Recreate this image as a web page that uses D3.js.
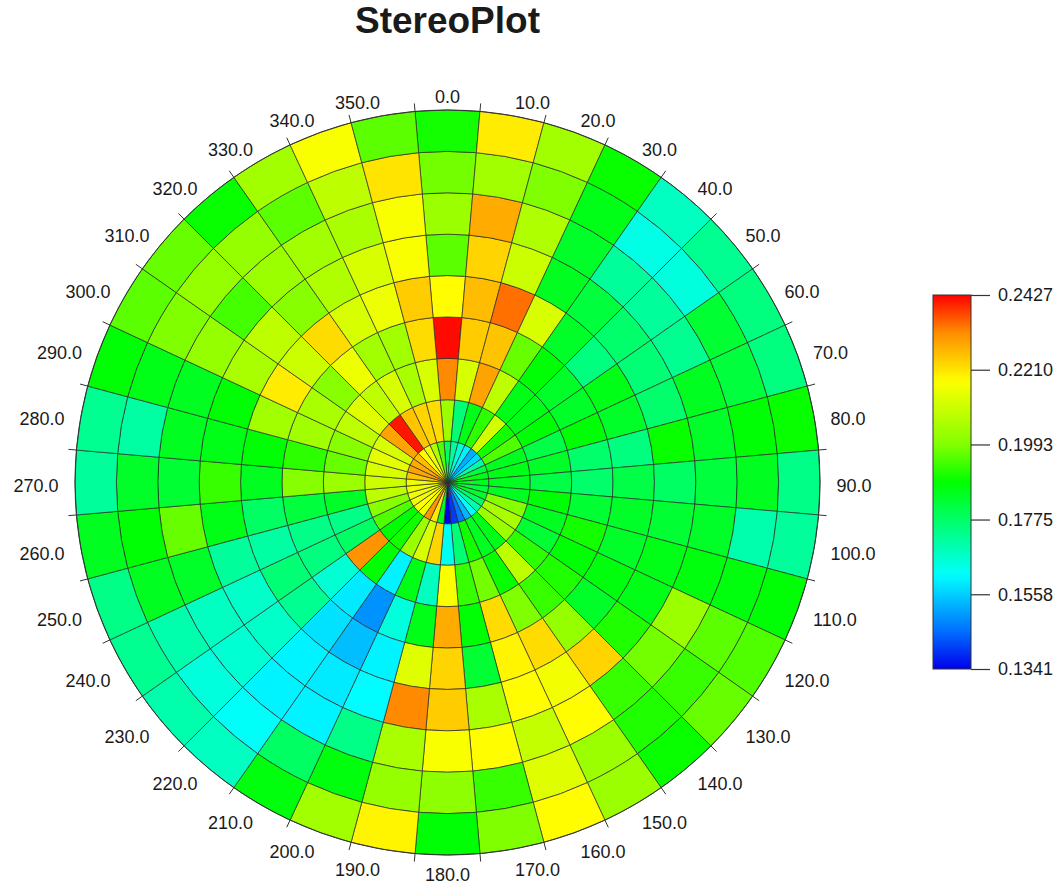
<!DOCTYPE html>
<html>
<head>
<meta charset="utf-8">
<script src="https://cdn.jsdelivr.net/npm/d3@7"></script>
<style>
  body { margin: 0; background: #fff; }
  text { font-family: "Liberation Sans", Arial, Helvetica, sans-serif; fill: #1a1a1a; }
</style>
</head>
<body>
<div id="chart"></div>
<script>
// sector centres (degrees, clockwise from north) and ring edges (degrees from centre)
var sectors = [0, 10, 20, 30, 40, 50, 60, 70, 80, 90, 100, 110, 120, 130, 140, 150, 160, 170,
               180, 190, 200, 210, 220, 230, 240, 250, 260, 270, 280, 290, 300, 310, 320, 330, 340, 350];
var ringEdges = [0, 10, 20, 30, 40, 50, 60, 70, 80, 90];

// values per ring, inner -> outer, one per sector
var ring0 = [.178, .172, .165, .160, .152, .157, .170, .182, .186, .185, .182, .184, .178, .170, .162, .153, .146, .140,
             .1341, .185, .220, .231, .215, .218, .216, .215, .216, .215, .225, .229, .228, .226, .218, .216, .206, .195];
var ring1 = [.203, .176, .186, .192, .211, .190, .195, .185, .186, .185, .185, .200, .205, .203, .186, .185, .190, .176,
             .163, .223, .212, .203, .190, .188, .195, .200, .208, .210, .212, .214, .212, .229, .241, .225, .223, .222];
var ring2 = [.232, .212, .229, .208, .186, .186, .188, .181, .184, .181, .188, .185, .183, .192, .208, .189, .198, .193,
             .217, .168, .186, .160, .188, .231, .178, .174, .184, .203, .197, .200, .208, .213, .208, .212, .205, .212];
var ring3 = [.242, .224, .225, .197, .188, .184, .184, .188, .177, .177, .183, .190, .188, .191, .193, .199, .222, .188,
             .228, .186, .165, .149, .159, .166, .175, .174, .182, .200, .192, .204, .205, .200, .215, .204, .204, .222];
var ring4 = [.218, .226, .234, .212, .184, .175, .186, .184, .175, .181, .184, .184, .187, .184, .202, .222, .219, .183,
             .223, .213, .160, .154, .158, .173, .176, .171, .178, .185, .188, .204, .220, .210, .222, .212, .215, .224];
var ring5 = [.196, .223, .210, .185, .182, .177, .176, .177, .189, .178, .183, .186, .186, .191, .223, .216, .218, .205,
             .224, .232, .161, .159, .160, .167, .167, .172, .186, .193, .186, .188, .205, .208, .200, .206, .212, .217];
var ring6 = [.203, .228, .206, .184, .172, .172, .173, .185, .184, .182, .184, .187, .203, .198, .193, .218, .209, .218,
             .217, .205, .174, .160, .160, .166, .168, .184, .197, .183, .185, .185, .202, .194, .203, .204, .205, .217];
var ring7 = [.198, .204, .199, .186, .164, .165, .183, .182, .188, .185, .170, .187, .196, .193, .191, .203, .213, .193,
             .201, .202, .187, .178, .162, .165, .170, .185, .188, .184, .171, .186, .199, .202, .202, .196, .208, .221];
var ring8 = [.190, .220, .204, .189, .168, .173, .175, .175, .189, .174, .172, .188, .195, .197, .189, .203, .218, .199,
             .188, .219, .204, .187, .168, .170, .173, .174, .185, .172, .173, .188, .196, .197, .189, .204, .217, .196];
var rings = [ring0, ring1, ring2, ring3, ring4, ring5, ring6, ring7, ring8];

var barTicks = [0.1341, 0.1558, 0.1775, 0.1993, 0.2210, 0.2427];

var w = 1064, h = 884;
var cx = 447.5, cy = 482.5, R = 372.5;

var svg = d3.select('#chart').append('svg')
  .attr('width', w)
  .attr('height', h);

var vmin = barTicks[0], vmax = barTicks[barTicks.length - 1];
var frac = d3.scaleLinear().domain([vmin, vmax]);
var color = d3.scaleLinear()
  .domain([0, 0.1, 0.25, 0.5, 0.6, 0.77, 0.9, 1].map(function(f) { return frac.invert(f); }))
  .range(['#0000eb', '#006eff', '#00ffff', '#00ff00', '#82ff00', '#ffff00', '#ff8c00', '#ff0000'])
  .clamp(true);

var r = d3.scaleLinear().domain([0, 90]).range([0, R]);
var ang = d3.scaleLinear().domain([0, 360]).range([0, 2 * Math.PI]);

svg.append('text')
  .attr('x', cx)
  .attr('y', 33)
  .attr('text-anchor', 'middle')
  .style('font-size', '37px')
  .style('font-weight', 'bold')
  .text('StereoPlot');

var plot = svg.append('g').attr('transform', 'translate(' + cx + ',' + cy + ')');

var cells = [];
rings.forEach(function(vals, i) {
  vals.forEach(function(v, j) {
    cells.push({ ring: i, az: sectors[j], value: v });
  });
});

var arc = d3.arc()
  .innerRadius(function(d) { return r(ringEdges[d.ring]); })
  .outerRadius(function(d) { return r(ringEdges[d.ring + 1]); })
  .startAngle(function(d) { return ang(d.az - 5); })
  .endAngle(function(d) { return ang(d.az + 5); });

plot.append('g')
  .selectAll('path')
  .data(cells)
  .enter().append('path')
  .attr('d', arc)
  .attr('fill', function(d) { return color(d.value); })
  .attr('stroke', '#2a2a2a')
  .attr('stroke-width', 0.7);

plot.append('circle')
  .attr('r', R)
  .attr('fill', 'none')
  .attr('stroke', '#333')
  .attr('stroke-width', 1);

// ticks on sector boundaries
plot.append('g')
  .selectAll('line')
  .data(sectors)
  .enter().append('line')
  .attr('x1', function(d) { return R * Math.sin(ang(d + 5)); })
  .attr('y1', function(d) { return -R * Math.cos(ang(d + 5)); })
  .attr('x2', function(d) { return (R + 8) * Math.sin(ang(d + 5)); })
  .attr('y2', function(d) { return -(R + 8) * Math.cos(ang(d + 5)); })
  .attr('stroke', '#333')
  .attr('stroke-width', 1);

var labR = R + 16.5;
plot.append('g')
  .selectAll('text')
  .data(sectors)
  .enter().append('text')
  .attr('x', function(d) { return labR * Math.sin(ang(d)); })
  .attr('y', function(d) { return -labR * Math.cos(ang(d)) + 3.5 + 0.36 * 18; })
  .attr('text-anchor', function(d) {
    if (d === 0 || d === 180) return 'middle';
    return d < 180 ? 'start' : 'end';
  })
  .style('font-size', '18px')
  .text(function(d) { return d.toFixed(1); });

// colour bar
var barX = 933, barW = 38;
var y = d3.scaleLinear().domain([vmin, vmax]).range([669, 295]);

var grad = svg.append('defs').append('linearGradient')
  .attr('id', 'cbar')
  .attr('x1', 0).attr('y1', 1).attr('x2', 0).attr('y2', 0);
grad.selectAll('stop')
  .data(d3.range(0, 1.0001, 0.02))
  .enter().append('stop')
  .attr('offset', function(d) { return d; })
  .attr('stop-color', function(d) { return color(frac.invert(d)); });

svg.append('rect')
  .attr('x', barX)
  .attr('y', y(vmax))
  .attr('width', barW)
  .attr('height', y(vmin) - y(vmax))
  .attr('fill', 'url(#cbar)')
  .attr('stroke', '#333')
  .attr('stroke-width', 1);

var axis = svg.append('g')
  .attr('transform', 'translate(' + (barX + barW) + ',0)')
  .call(d3.axisRight(y).tickValues(barTicks).tickSize(19).tickPadding(8)
    .tickFormat(d3.format('.4f')));
axis.select('.domain').remove();
axis.selectAll('line').attr('stroke', '#333').attr('stroke-width', 1.2);
axis.selectAll('text')
  .style('font-size', '18px')
  .style('font-family', '"Liberation Sans", Arial, sans-serif')
  .attr('fill', '#1a1a1a');
</script>
</body>
</html>
